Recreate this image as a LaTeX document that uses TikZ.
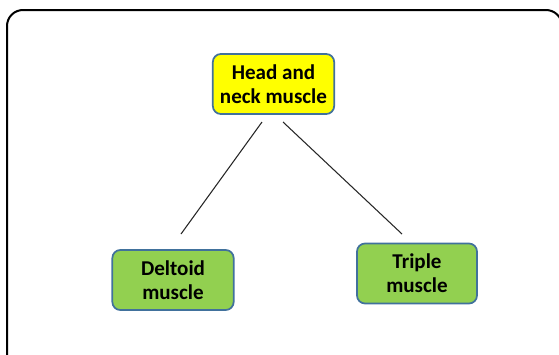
\documentclass[tikz,border=0pt]{standalone}
\usepackage{fontspec}
\setmainfont{Carlito}
\definecolor{boxborder}{HTML}{41719C}
\definecolor{headfill}{HTML}{FFFF00}
\definecolor{limbfill}{HTML}{92D050}
\begin{document}
\begin{tikzpicture}[x=0.75pt,y=-0.75pt,
  musclebox/.style={draw=boxborder,line width=1.3pt,rounded corners=6pt,
    align=center,font=\fontsize{15.8pt}{18pt}\selectfont\bfseries,inner sep=0pt},
  link/.style={draw=black!85,line width=0.8pt}]
\useasboundingbox (0,0) rectangle (559,354);
\draw[line width=1.5pt,rounded corners=12pt] (7,400) -- (7,10) -- (562,10) -- (562,400);
\node[musclebox,fill=headfill,minimum width=91pt,minimum height=45pt] (head) at (273.5,84) {Head and\\neck muscle};
\node[musclebox,fill=limbfill,minimum width=91pt,minimum height=45pt] (deltoid) at (173,280) {Deltoid\\muscle};
\node[musclebox,fill=limbfill,minimum width=90pt,minimum height=45pt] (triple) at (417,273.5) {Triple\\muscle};
\coordinate (hl) at (262,122);
\coordinate (hr) at (283,122);
\coordinate (dl) at (181,234);
\coordinate (tr) at (402,234);
\draw[link] (hl) -- (dl);
\draw[link] (hr) -- (tr);
\end{tikzpicture}
\end{document}
